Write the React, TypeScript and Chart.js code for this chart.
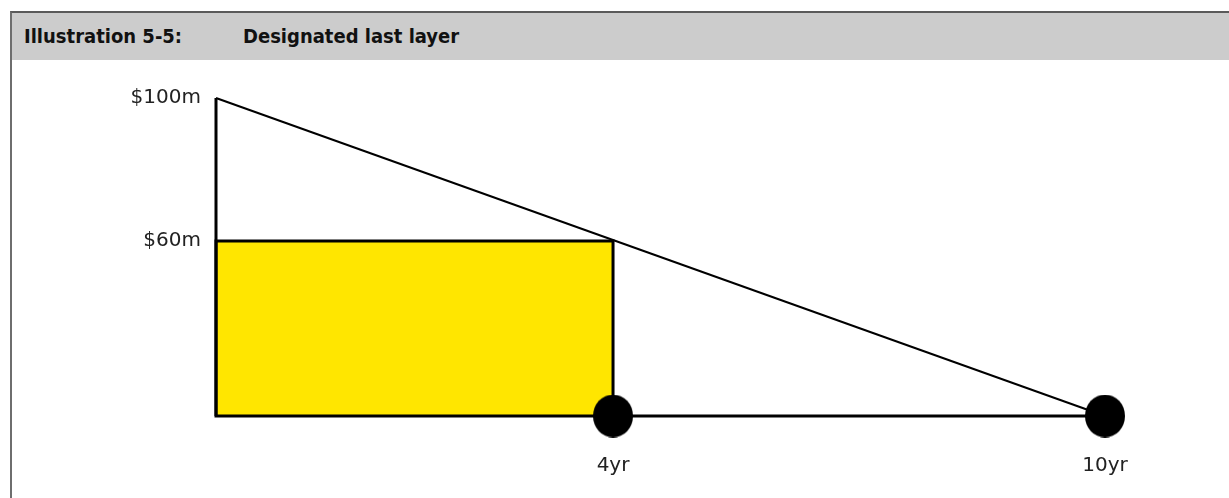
import React, { useEffect, useRef } from 'react';
import { Chart, registerables, LinearScale } from 'chart.js';

Chart.register(...registerables);

// ---- data ----
const xTickValues = [0, 4, 10];
const xTickLabels = ['', '4yr', '10yr'];
const yTickValues = [0, 60, 100];
const yTickLabels = ['', '$60m', '$100m'];

const layerYears = [0, 4]; // designated last layer: first 4 years
const layerLimit = 60; // $60m
const coverStartYear = 0;
const coverEndYear = 10;
const coverStartLimit = 100; // $100m
const coverEndLimit = 0;
const markerYears = [4, 10];

// ---- illustration scale (drawing is not to scale: piecewise positions) ----
const xDecimals = [0, 0.4466, 1];
const yDecimals = [0, 0.5503, 1];

function makeWarpedScale(scaleId: string, values: number[], decimals: number[]) {
  class Warped extends (LinearScale as any) {
    static id = scaleId;
    static defaults = (LinearScale as any).defaults;
    getPixelForValue(value: number) {
      if (value === null || value === undefined || isNaN(value)) return NaN;
      let i = 0;
      while (i < values.length - 2 && value > values[i + 1]) i++;
      const t = (value - values[i]) / (values[i + 1] - values[i]);
      const dec = decimals[i] + t * (decimals[i + 1] - decimals[i]);
      return (this as any).getPixelForDecimal(dec);
    }
    getValueForPixel(pixel: number) {
      const dec = (this as any).getDecimalForPixel(pixel);
      let i = 0;
      while (i < decimals.length - 2 && dec > decimals[i + 1]) i++;
      const t = (dec - decimals[i]) / (decimals[i + 1] - decimals[i]);
      return values[i] + t * (values[i + 1] - values[i]);
    }
  }
  return Warped;
}

const WarpedX = makeWarpedScale('warpedX', xTickValues, xDecimals);
const WarpedY = makeWarpedScale('warpedY', yTickValues, yDecimals);
Chart.register(WarpedX as any, WarpedY as any);

const tickFont = { family: '"DejaVu Sans", sans-serif', size: 20 };

function makeEllipse(w: number, h: number, color: string) {
  const c = document.createElement('canvas');
  c.width = w;
  c.height = h;
  const ctx = c.getContext('2d')!;
  ctx.fillStyle = color;
  ctx.beginPath();
  ctx.ellipse(w / 2, h / 2, w / 2, h / 2, 0, 0, Math.PI * 2);
  ctx.fill();
  return c;
}

export default function App() {
  const ref = useRef<HTMLCanvasElement | null>(null);

  useEffect(() => {
    if (!ref.current) return;
    const dot = makeEllipse(40, 43, '#000000');
    const chart = new Chart(ref.current, {
      type: 'line',
      data: {
        datasets: [
          {
            label: 'markers',
            data: markerYears.map((x) => ({ x, y: 0 })),
            showLine: false,
            pointStyle: dot,
            pointRadius: 20,
            pointHoverRadius: 20,
            pointBackgroundColor: '#000000',
            pointBorderWidth: 0,
            clip: false,
          } as any,
          {
            label: 'cover',
            data: [
              { x: coverStartYear, y: coverStartLimit },
              { x: coverEndYear, y: coverEndLimit },
            ],
            borderColor: '#000000',
            borderWidth: 2,
            pointRadius: 0,
            fill: false,
            clip: false,
          } as any,
          {
            label: 'axes',
            data: [
              { x: coverStartYear, y: coverStartLimit },
              { x: coverStartYear, y: coverEndLimit },
              { x: coverEndYear, y: coverEndLimit },
            ],
            borderColor: '#000000',
            borderWidth: 3,
            borderJoinStyle: 'miter',
            pointRadius: 0,
            fill: false,
            clip: false,
          } as any,
          {
            label: 'layer',
            data: [
              { x: layerYears[0], y: 0 },
              { x: layerYears[0], y: layerLimit },
              { x: layerYears[1], y: layerLimit },
              { x: layerYears[1], y: 0 },
            ],
            borderColor: '#000000',
            borderWidth: 3,
            borderJoinStyle: 'miter',
            backgroundColor: '#FFE600',
            pointRadius: 0,
            fill: 'origin',
            clip: false,
          } as any,
        ],
      },
      options: {
        animation: false,
        responsive: false,
        events: [],
        layout: { padding: { left: 0, right: 124, top: 38, bottom: 0 } },
        plugins: { legend: { display: false }, tooltip: { enabled: false } },
        scales: {
          x: {
            type: 'warpedX' as any,
            min: 0,
            max: 10,
            grid: { display: false, drawTicks: false },
            border: { display: false },
            afterFit: (s: any) => {
              s.height = 82;
            },
            afterBuildTicks: (s: any) => {
              s.ticks = xTickValues.map((v) => ({ value: v }));
            },
            ticks: {
              autoSkip: false,
              maxRotation: 0,
              padding: 38,
              color: '#222222',
              font: tickFont,
              callback: (v: any) => xTickLabels[xTickValues.indexOf(Number(v))] ?? '',
            },
          } as any,
          y: {
            type: 'warpedY' as any,
            min: 0,
            max: 100,
            grid: { display: false, drawTicks: false },
            border: { display: false },
            afterFit: (s: any) => {
              s.width = 216;
            },
            afterBuildTicks: (s: any) => {
              s.ticks = yTickValues.map((v) => ({ value: v }));
            },
            ticks: {
              autoSkip: false,
              padding: 15,
              color: '#222222',
              font: tickFont,
              callback: (v: any) => yTickLabels[yTickValues.indexOf(Number(v))] ?? '',
            },
          } as any,
        },
      },
    });
    return () => chart.destroy();
  }, []);

  const titleStyle: React.CSSProperties = {
    position: 'absolute',
    top: 13,
    height: 47,
    lineHeight: '47px',
    fontFamily: '"DejaVu Sans Condensed", "DejaVu Sans", sans-serif',
    fontStretch: 'condensed',
    fontWeight: 'bold',
    fontSize: 20,
    color: '#111111',
    whiteSpace: 'nowrap',
  };

  return (
    <div
      style={{
        position: 'fixed',
        left: 0,
        top: 0,
        width: 1229,
        height: 498,
        background: '#ffffff',
        overflow: 'hidden',
      }}
    >
      <div
        style={{
          position: 'absolute',
          left: 10,
          top: 11,
          width: 1300,
          height: 600,
          borderLeft: '2px solid #6e6e6e',
          borderTop: '2px solid #5a5a5a',
          boxSizing: 'border-box',
        }}
      />
      <div
        style={{
          position: 'absolute',
          left: 12,
          top: 13,
          width: 1300,
          height: 47,
          background: '#cccccc',
        }}
      />
      <div style={{ ...titleStyle, left: 24 }}>Illustration 5-5:</div>
      <div style={{ ...titleStyle, left: 243 }}>Designated last layer</div>
      <canvas
        ref={ref}
        width={1229}
        height={438}
        style={{ position: 'absolute', left: 0, top: 60, width: 1229, height: 438 }}
      />
    </div>
  );
}
